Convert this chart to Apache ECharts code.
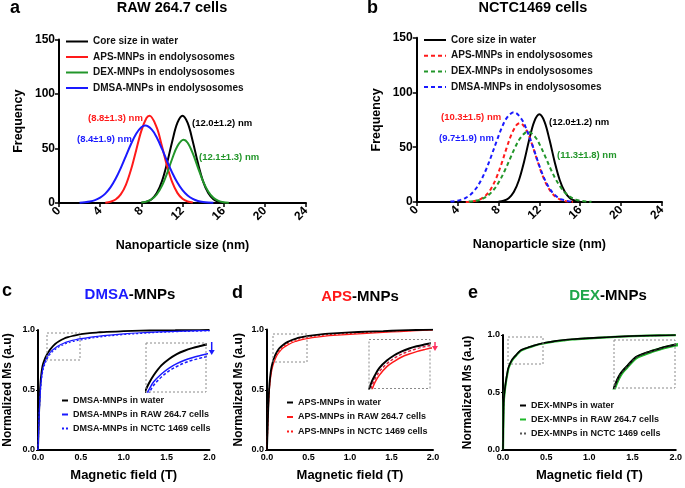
<!DOCTYPE html>
<html><head><meta charset="utf-8">
<script src="https://cdn.jsdelivr.net/npm/echarts@6/dist/echarts.min.js"></script>
<style>html,body{margin:0;padding:0;background:#fff}#c{width:685px;height:488px}</style>
</head><body><div id="c"></div>
<script>
// ---------- Panel a / b : size distributions (nm, frequency) ----------
const coreX = [8,8.5,9,9.5,10,10.5,11,11.5,12,12.5,13,13.5,14,14.5,15,15.5,16];
const coreY = [0.3,1.1,3.5,9.1,19.9,36.6,56.5,73.4,80,73.4,56.5,36.6,19.9,9.1,3.5,1.1,0.3];
const aApsX = [4.5,5,5.5,6,6.5,7,7.5,8,8.5,8.8,9.5,10,10.5,11,11.5,12,12.5,13];
const aApsY = [0.3,1.1,3.2,7.9,16.7,30.7,48.5,66.2,77.9,80,69.2,52.2,34.0,19.1,9.3,3.9,1.4,0.4];
const aDexX = [8,8.5,9,9.5,10,10.5,11,11.5,12.1,12.5,13,13.5,14,14.5,15,15.5,16,16.5];
const aDexY = [0.4,1.3,3.4,7.8,15.7,27.2,40.6,52.1,58,55.3,45.6,32.5,19.9,10.6,4.8,1.9,0.6,0.2];
const aDmsaX = [2,2.5,3,3.5,4,4.5,5,5.5,6,6.5,7,7.5,8,8.4,9,9.5,10,10.5,11,11.5,12,12.5,13,13.5,14,14.5,15];
const aDmsaY = [0.2,0.6,1.3,2.6,4.9,8.6,14.3,22.2,32.0,43.1,54.1,63.5,69.4,71,67.5,60.1,49.8,38.5,27.8,18.8,11.8,6.9,3.8,1.9,0.9,0.4,0.2];
const bApsX = [4.8,5.3,5.8,6.3,6.8,7.3,7.8,8.3,8.8,9.3,9.8,10.1,10.8,11.3,11.8,12.3,12.8,13.3,13.8,14.3,14.8,15.3];
const bApsY = [0.1,0.4,1.2,2.9,6.4,12.6,22.2,35.0,49.4,62.4,70.6,72,64.6,52.3,37.9,24.5,14.2,7.4,3.4,1.4,0.5,0.2];
const bDexX = [5.1,5.6,6.1,6.6,7.1,7.6,8.1,8.6,9.1,9.6,10.1,10.6,10.9,11.6,12.1,12.6,13.1,13.6,14.1,14.6,15.1,15.6,16.1,16.6,17.1];
const bDexY = [0.4,0.8,1.8,3.7,6.9,11.9,19.1,28.3,38.8,49.3,58.0,63.1,64,59.3,51.2,41.0,30.3,20.8,13.2,7.7,4.2,2.1,1.0,0.4,0.2];
const bDmsaX = [3.3,3.8,4.3,4.8,5.3,5.8,6.3,6.8,7.3,7.8,8.3,8.8,9.5,10.3,10.8,11.3,11.8,12.3,12.8,13.3,13.8,14.3,14.8,15.3];
const bDmsaY = [0.4,0.9,1.9,3.8,7.1,12.3,19.9,29.9,42.0,55.0,67.2,76.6,82,75.1,64.9,52.5,38.5,25.5,15.5,8.5,4.2,2.0,0.8,0.3];
const sizeTicks = [0,4,8,12,16,20,24];
const freqTicks = [0,50,100,150];

// ---------- Panels c / d / e : magnetisation curves ----------
const fieldT = [0,0.005,0.01,0.02,0.03,0.04,0.05,0.06,0.08,0.1,0.12,0.15,0.2,0.25,0.3,0.35,0.4,0.45,0.5,0.6,0.7,0.8,1.0,1.2,1.4,1.6,1.8,2.0];
const cWater = [0,0.12,0.25,0.45,0.57,0.64,0.69,0.72,0.76,0.79,0.815,0.845,0.883,0.908,0.927,0.94,0.95,0.958,0.965,0.974,0.98,0.985,0.99,0.994,0.997,0.998,0.999,1.0];
const cRaw   = [0,0.1,0.22,0.4,0.52,0.6,0.65,0.69,0.73,0.765,0.79,0.82,0.85,0.873,0.89,0.903,0.913,0.921,0.928,0.939,0.948,0.956,0.968,0.977,0.984,0.989,0.993,0.996];
const cNctc  = [0,0.1,0.21,0.39,0.5,0.58,0.63,0.67,0.715,0.75,0.776,0.806,0.838,0.862,0.879,0.893,0.903,0.911,0.918,0.93,0.94,0.949,0.962,0.972,0.98,0.986,0.99,0.993];
const dWater = [0,0.12,0.24,0.43,0.55,0.62,0.67,0.705,0.755,0.79,0.815,0.845,0.875,0.897,0.913,0.925,0.934,0.941,0.947,0.956,0.963,0.968,0.976,0.982,0.987,0.992,0.996,0.999];
const dRaw   = [0,0.1,0.21,0.4,0.51,0.58,0.63,0.67,0.72,0.755,0.785,0.815,0.85,0.872,0.89,0.902,0.912,0.92,0.927,0.937,0.945,0.951,0.96,0.968,0.976,0.983,0.99,0.996];
const dNctc  = [0,0.11,0.23,0.42,0.53,0.6,0.65,0.69,0.74,0.772,0.8,0.83,0.862,0.885,0.902,0.914,0.924,0.932,0.938,0.947,0.955,0.96,0.968,0.975,0.982,0.988,0.993,0.997];
const eWater = [0,0.3,0.45,0.52,0.58,0.63,0.67,0.71,0.75,0.78,0.8,0.825,0.865,0.882,0.895,0.907,0.918,0.927,0.935,0.947,0.956,0.963,0.973,0.981,0.988,0.993,0.997,1.0];
const eRaw   = [0,0.28,0.43,0.51,0.57,0.62,0.66,0.70,0.742,0.773,0.795,0.82,0.86,0.878,0.892,0.904,0.915,0.924,0.932,0.944,0.953,0.961,0.971,0.98,0.987,0.992,0.996,0.999];
const eNctc  = [0,0.29,0.44,0.515,0.575,0.625,0.665,0.705,0.746,0.776,0.797,0.822,0.862,0.88,0.893,0.905,0.916,0.925,0.933,0.945,0.954,0.962,0.972,0.98,0.987,0.992,0.996,0.999];
const fieldTicks = ['0.0','0.5','1.0','1.5','2.0'];

// ---------- labels ----------
const legendA = ['Core size in water','APS-MNPs in endolysosomes','DEX-MNPs in endolysosomes','DMSA-MNPs in endolysosomes'];
const legendC = ['DMSA-MNPs in water','DMSA-MNPs in RAW 264.7 cells','DMSA-MNPs in NCTC 1469 cells'];
const legendD = ['APS-MNPs in water','APS-MNPs in RAW 264.7 cells','APS-MNPs in NCTC 1469 cells'];
const legendE = ['DEX-MNPs in water','DEX-MNPs in RAW 264.7 cells','DEX-MNPs in NCTC 1469 cells'];

const F = '"Liberation Sans", Arial, sans-serif';
const RED = '#ff1a1a', GREEN = '#22962a', BLUE = '#1a1aff', BLACK = '#000';
const pairs = (xs, ys) => xs.map((x, i) => [x, ys[i]]);

const chart = echarts.init(document.getElementById('c'));

const grids = [
  {left:59, top:39.5, width:247, height:163.5},    // a
  {left:416.7, top:37.7, width:245.3, height:164.3},// b
  {left:38, top:330, width:171.5, height:120},     // c
  {left:267, top:329.5, width:166, height:120.5},  // d
  {left:503, top:335, width:175, height:115},      // e
  {left:146, top:343, width:60, height:49},        // c inset
  {left:369, top:339.5, width:61, height:49},      // d inset
  {left:614, top:340, width:61, height:48}         // e inset
];

const axisLab = (size) => ({fontFamily:F, fontWeight:'bold', fontSize:size, color:'#000'});
function sizeX(i){ return {type:'value', gridIndex:i, min:0, max:24, interval:4,
  name:'Nanoparticle size (nm)', nameLocation:'middle', nameGap:36,
  nameTextStyle:axisLab(12.5),
  axisLine:{lineStyle:{color:'#000', width:2}}, axisTick:{length:4, lineStyle:{width:1.5, color:'#000'}},
  axisLabel:Object.assign(axisLab(12), {rotate:45, margin:6}), splitLine:{show:false}}; }
function freqY(i){ return {type:'value', gridIndex:i, min:0, max:150, interval:50,
  name:'Frequency', nameLocation:'middle', nameGap:34, nameTextStyle:axisLab(12.5),
  axisLine:{show:true, lineStyle:{color:'#000', width:2}}, axisTick:{show:true, length:4, lineStyle:{width:1.5,color:'#000'}},
  axisLabel:Object.assign(axisLab(12), {margin:4}), splitLine:{show:false}}; }
function fieldX(i){ return {type:'value', gridIndex:i, min:0, max:2, interval:0.5,
  name:'Magnetic field (T)', nameLocation:'middle', nameGap:19, nameTextStyle:axisLab(13),
  axisLine:{lineStyle:{color:'#000', width:2}}, axisTick:{show:false},
  axisLabel:Object.assign(axisLab(9), {margin:3, formatter:(v)=>v.toFixed(1)}), splitLine:{show:false}}; }
function msY(i, gap){ return {type:'value', gridIndex:i, min:0, max:1, interval:0.5,
  name:'Normalized Ms (a.u)', nameLocation:'middle', nameGap:gap, nameTextStyle:axisLab(12),
  axisLine:{show:true, lineStyle:{color:'#000', width:2}}, axisTick:{show:true, length:2, lineStyle:{color:'#000'}},
  axisLabel:Object.assign(axisLab(9), {margin:3, formatter:(v)=>v.toFixed(1)}), splitLine:{show:false}}; }
function hidX(i, mn, mx){ return {type:'value', gridIndex:i, min:mn, max:mx, show:false}; }
function hidY(i, mn, mx){ return {type:'value', gridIndex:i, min:mn, max:mx, show:false}; }

const xAxes = [sizeX(0), sizeX(1), fieldX(2), fieldX(3), fieldX(4), hidX(5,0.1,0.49), hidX(6,0.08,0.49), hidX(7,0.06,0.45)];
const yAxes = [freqY(0), freqY(1), msY(2,24), msY(3,22), msY(4,29), hidY(5,0.78,0.97), hidY(6,0.76,0.962), hidY(7,0.71,0.95)];

function ln(name, idx, data, color, width, dashed, z){
  return {type:'line', name, xAxisIndex:idx, yAxisIndex:idx, data, symbol:'none', showSymbol:false,
    smooth:0.35, z: z||2, silent:true, clip:true,
    lineStyle:{color, width, type: dashed ? dashed : 'solid'}, itemStyle:{color}};
}
const DASH_AB = [4,3];
const DOT = [2,2];
const series = [
  ln('a:'+legendA[0], 0, pairs(coreX, coreY), BLACK, 2),
  ln('a:'+legendA[1], 0, pairs(aApsX, aApsY), RED, 2),
  ln('a:'+legendA[2], 0, pairs(aDexX, aDexY), GREEN, 2),
  ln('a:'+legendA[3], 0, pairs(aDmsaX, aDmsaY), BLUE, 2),
  ln('b:'+legendA[0], 1, pairs(coreX, coreY), BLACK, 2),
  ln('b:'+legendA[1], 1, pairs(bApsX, bApsY), RED, 2, DASH_AB),
  ln('b:'+legendA[2], 1, pairs(bDexX, bDexY), GREEN, 2, DASH_AB),
  ln('b:'+legendA[3], 1, pairs(bDmsaX, bDmsaY), BLUE, 2, DASH_AB),
  ln('c:'+legendC[0], 2, pairs(fieldT, cWater), BLACK, 1.8),
  ln('c:'+legendC[1], 2, pairs(fieldT, cRaw), BLUE, 1.2),
  ln('c:'+legendC[2], 2, pairs(fieldT, cNctc), BLUE, 1.2, DOT),
  ln('d:'+legendD[0], 3, pairs(fieldT, dWater), BLACK, 1.8, null, 3),
  ln('d:'+legendD[1], 3, pairs(fieldT, dRaw), RED, 1.2),
  ln('d:'+legendD[2], 3, pairs(fieldT, dNctc), RED, 1.2, DOT),
  ln('e:'+legendE[0], 4, pairs(fieldT, eWater), BLACK, 1.6, null, 4),
  ln('e:'+legendE[1], 4, pairs(fieldT, eRaw), '#1fb82a', 2.2, null, 2),
  ln('e:'+legendE[2], 4, pairs(fieldT, eNctc), '#555', 1.2, DOT, 3),
  ln('ci:w', 5, pairs(fieldT, cWater), BLACK, 2),
  ln('ci:r', 5, pairs(fieldT, cRaw), BLUE, 1.5),
  ln('ci:n', 5, pairs(fieldT, cNctc), BLUE, 1.5, [3,2]),
  ln('di:w', 6, pairs(fieldT, dWater), BLACK, 2, null, 3),
  ln('di:r', 6, pairs(fieldT, dRaw), RED, 1.5),
  ln('di:n', 6, pairs(fieldT, dNctc), '#d02040', 1.5, [3,2]),
  ln('ei:r', 7, pairs(fieldT, eRaw), '#1fb82a', 3.2, null, 2),
  ln('ei:w', 7, pairs(fieldT, eWater), BLACK, 2, null, 3),
  ln('ei:n', 7, pairs(fieldT, eNctc), '#333', 1.2, [3,2], 4)
];

const legTxt = (s) => ({fontFamily:F, fontWeight:'bold', fontSize:s, color:'#111'});
const strip = (n) => n.slice(2);
const legBase = {orient:'vertical', padding:0, formatter:strip, selectedMode:false, itemStyle:{opacity:0}};
const legends = [
  Object.assign({left:65, top:36.5, itemWidth:22, itemHeight:10, itemGap:5.5, textStyle:legTxt(10),
    data: legendA.map(n=>'a:'+n)}, legBase),
  Object.assign({left:423, top:35, itemWidth:22, itemHeight:10, itemGap:5.7, textStyle:legTxt(10),
    data: legendA.map(n=>'b:'+n)}, legBase),
  Object.assign({left:61, top:396, itemWidth:6, itemHeight:8, itemGap:5, textStyle:legTxt(9),
    data: legendC.map(n=>'c:'+n)}, legBase),
  Object.assign({left:286, top:398, itemWidth:6, itemHeight:8, itemGap:5.5, textStyle:legTxt(9),
    data: legendD.map(n=>'d:'+n)}, legBase),
  Object.assign({left:519, top:401, itemWidth:6, itemHeight:8, itemGap:5, textStyle:legTxt(9),
    data: legendE.map(n=>'e:'+n)}, legBase)
];

const T = (text, left, top, size, extra) => Object.assign({text, left, top, padding:0,
  textStyle:{fontFamily:F, fontWeight:'bold', fontSize:size, color:'#000'}}, extra||{});
const titles = [
  T('a', 10, -1, 18), T('RAW 264.7 cells', 172, 0, 14.5, {textAlign:'center'}),
  T('b', 367, -1, 18), T('NCTC1469 cells', 533, 0, 14.5, {textAlign:'center'}),
  T('c', 2, 282, 18), T('d', 232, 284, 18), T('e', 468, 284, 18),
  {text:'{b|DMSA}{k|-MNPs}', left:130, top:287, textAlign:'center', padding:0,
   textStyle:{rich:{b:{fontFamily:F, fontWeight:'bold', fontSize:15, color:BLUE}, k:{fontFamily:F, fontWeight:'bold', fontSize:15, color:'#000'}}}},
  {text:'{b|APS}{k|-MNPs}', left:360, top:289, textAlign:'center', padding:0,
   textStyle:{rich:{b:{fontFamily:F, fontWeight:'bold', fontSize:15, color:RED}, k:{fontFamily:F, fontWeight:'bold', fontSize:15, color:'#000'}}}},
  {text:'{b|DEX}{k|-MNPs}', left:608, top:288, textAlign:'center', padding:0,
   textStyle:{rich:{b:{fontFamily:F, fontWeight:'bold', fontSize:15, color:'#1ea64a'}, k:{fontFamily:F, fontWeight:'bold', fontSize:15, color:'#000'}}}}
];

const lab = (text, x, y, fill) => ({type:'text', x, y, z:10, style:{text, fill, font:'bold 9.5px '+F, align:'left', verticalAlign:'middle'}});
const box = (x, y, w, h) => ({type:'rect', z:10, shape:{x, y, width:w, height:h}, style:{fill:'none', stroke:'#8a8a8a', lineWidth:1, lineDash:[2,2]}});
const arrow = (x, y1, y2, col) => ([
  {type:'line', z:10, shape:{x1:x, y1:y1, x2:x, y2:y2-3}, style:{stroke:col, lineWidth:1.5}},
  {type:'polygon', z:10, shape:{points:[[x-3, y2-4],[x+3, y2-4],[x, y2+1]]}, style:{fill:col}}
]);
const graphic = [
  lab('(8.8\u00b11.3) nm', 88, 118, RED),
  lab('(8.4\u00b11.9) nm', 77, 139, BLUE),
  lab('(12.0\u00b11.2) nm', 192, 123, BLACK),
  lab('(12.1\u00b11.3) nm', 199, 157, GREEN),
  lab('(10.3\u00b11.5) nm', 441, 117, RED),
  lab('(9.7\u00b11.9) nm', 439, 138, BLUE),
  lab('(12.0\u00b11.2) nm', 549, 122, BLACK),
  lab('(11.3\u00b11.8) nm', 557, 155, GREEN),
  box(47, 333, 33, 27), box(146, 343, 60, 49),
  box(273, 334, 34, 28), box(369, 339.5, 61, 49),
  box(508, 337, 35, 27), box(614, 340, 61, 48),
  ...arrow(211.7, 342, 354, BLUE),
  ...arrow(435, 342, 350, '#ff3060')
];

chart.setOption({
  animation:false, backgroundColor:'#fff',
  title:titles, legend:legends, grid:grids, xAxis:xAxes, yAxis:yAxes, series, graphic
});
</script></body></html>
